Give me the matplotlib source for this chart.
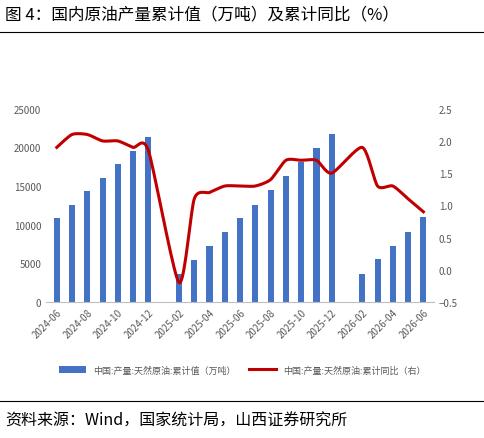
import matplotlib
matplotlib.use("Agg")
import matplotlib.pyplot as plt
import numpy as np

plt.rcParams['font.family'] = ['Noto Sans CJK SC', 'DejaVu Sans']

months = ["2024-06","2024-07","2024-08","2024-09","2024-10","2024-11","2024-12",
          "2025-01","2025-02","2025-03","2025-04","2025-05","2025-06","2025-07","2025-08",
          "2025-09","2025-10","2025-11","2025-12","2026-01","2026-02","2026-03","2026-04",
          "2026-05","2026-06"]
output = [10800,12500,14300,16000,17800,19500,21300,
          np.nan,3600,5400,7200,9000,10900,12600,14500,
          16300,18100,19900,21700,np.nan,3600,5500,7300,9100,11000]
yoy = [1.9,2.1,2.1,2.0,2.0,1.9,1.85,
       np.nan,-0.2,1.1,1.2,1.3,1.3,1.3,1.4,
       1.7,1.7,1.7,1.5,np.nan,1.9,1.3,1.3,1.1,0.9]

fig = plt.figure(figsize=(4.85,4.39), dpi=100)
fig.text(0.01,0.965,"图 4：国内原油产量累计值（万吨）及累计同比（%）",fontsize=12,va='center')
fig.add_artist(plt.Line2D([0,1],[0.925,0.925],color='black',lw=0.8))
fig.add_artist(plt.Line2D([0,1],[0.085,0.085],color='black',lw=0.8))
fig.text(0.01,0.04,"资料来源：Wind，国家统计局，山西证券研究所",fontsize=11.5,va='center')

ax = fig.add_axes([0.095,0.31,0.80,0.44])
x = np.arange(len(months))
ax.bar(x, output, width=0.4, color='#4472C4', label='中国:产量:天然原油:累计值（万吨）')
ax.set_ylim(0,25000)
ax.set_yticks(range(0,25001,5000))
ax.set_xlim(-0.7,len(months)-0.3)
ax.set_xticks(x[::2])
ax.set_xticklabels(months[::2], rotation=45, ha='right', rotation_mode='anchor')
ax.tick_params(labelsize=7, length=0, colors='#595959')
for s in ['top','right','left']:
    ax.spines[s].set_visible(False)
ax.spines['bottom'].set_color('#BFBFBF')

ax2 = ax.twinx()
yv = np.array(yoy); m = ~np.isnan(yv)
px, py = x[m].astype(float), yv[m]
# cardinal spline smoothing for drawing (reduced tension)
k = 0.35
sx, sy = [], []
t = np.linspace(0,1,20)
h00 = 2*t**3-3*t**2+1; h10 = t**3-2*t**2+t; h01 = -2*t**3+3*t**2; h11 = t**3-t**2
def tang(arr, i):
    a = arr[max(i-1,0)]; b = arr[min(i+1,len(arr)-1)]
    return k*(b-a)
for i in range(len(px)-1):
    sx.extend(h00*px[i]+h10*tang(px,i)+h01*px[i+1]+h11*tang(px,i+1))
    sy.extend(h00*py[i]+h10*tang(py,i)+h01*py[i+1]+h11*tang(py,i+1))
ax2.plot(sx, sy, color='#C00000', lw=2.2, label='中国:产量:天然原油:累计同比（右）')
ax2.set_ylim(-0.5,2.5)
ax2.set_yticks(np.arange(-0.5,2.51,0.5))
ax2.tick_params(labelsize=7, length=0, colors='#595959')
for s in ['top','right','left','bottom']:
    ax2.spines[s].set_visible(False)

h1,l1 = ax.get_legend_handles_labels(); h2,l2 = ax2.get_legend_handles_labels()
fig.legend(h1+h2, l1+l2, loc='center', bbox_to_anchor=(0.5,0.155), ncol=2, frameon=False,
           fontsize=6.5, labelcolor='#595959', handlelength=3, columnspacing=1.5)
fig.savefig("out.png", dpi=100)
